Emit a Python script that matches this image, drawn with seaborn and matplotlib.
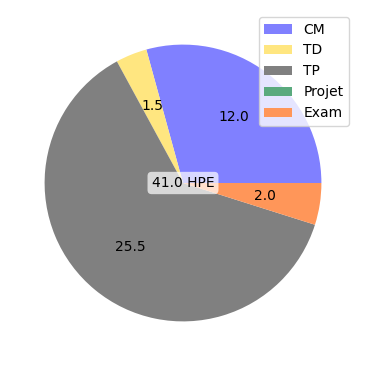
import matplotlib
matplotlib.use("Agg")
import matplotlib.pyplot as plt
import seaborn as sns

categories = ["CM", "TD", "TP", "Projet", "Exam"]
hours = [12.0, 1.5, 25.5, 0.0, 2.0]
colors = ["#8080FF", "#FFE680", "#808080", "#5AAA7E", "#FF9659"]
unit = "HPE"

sns.reset_orig()
plt.rcParams['font.family'] = ['DejaVu Sans']

total = sum(hours)
fig = plt.figure(figsize=(3.66, 3.66), dpi=100)
ax = fig.add_axes([10 / 366, 10 / 366, 346 / 366, 346 / 366])

def fmt(p):
    v = p * total / 100
    return f"{v:.1f}" if v > 0 else ""

wedges, texts, autotexts = ax.pie(hours, colors=colors, autopct=fmt,
                                  pctdistance=0.6, startangle=0,
                                  counterclock=True,
                                  wedgeprops=dict(linewidth=0, edgecolor="none"),
                                  textprops=dict(color="black"))
ax.text(0, 0, f"{total:.1f} {unit}", ha="center", va="center", fontsize=10,
        color="black",
        bbox=dict(boxstyle="round", facecolor="white", edgecolor="none", alpha=0.7))
ax.legend(wedges, categories, loc="upper right")
ax.set_aspect("equal")
fig.savefig("out.png", dpi=100)
